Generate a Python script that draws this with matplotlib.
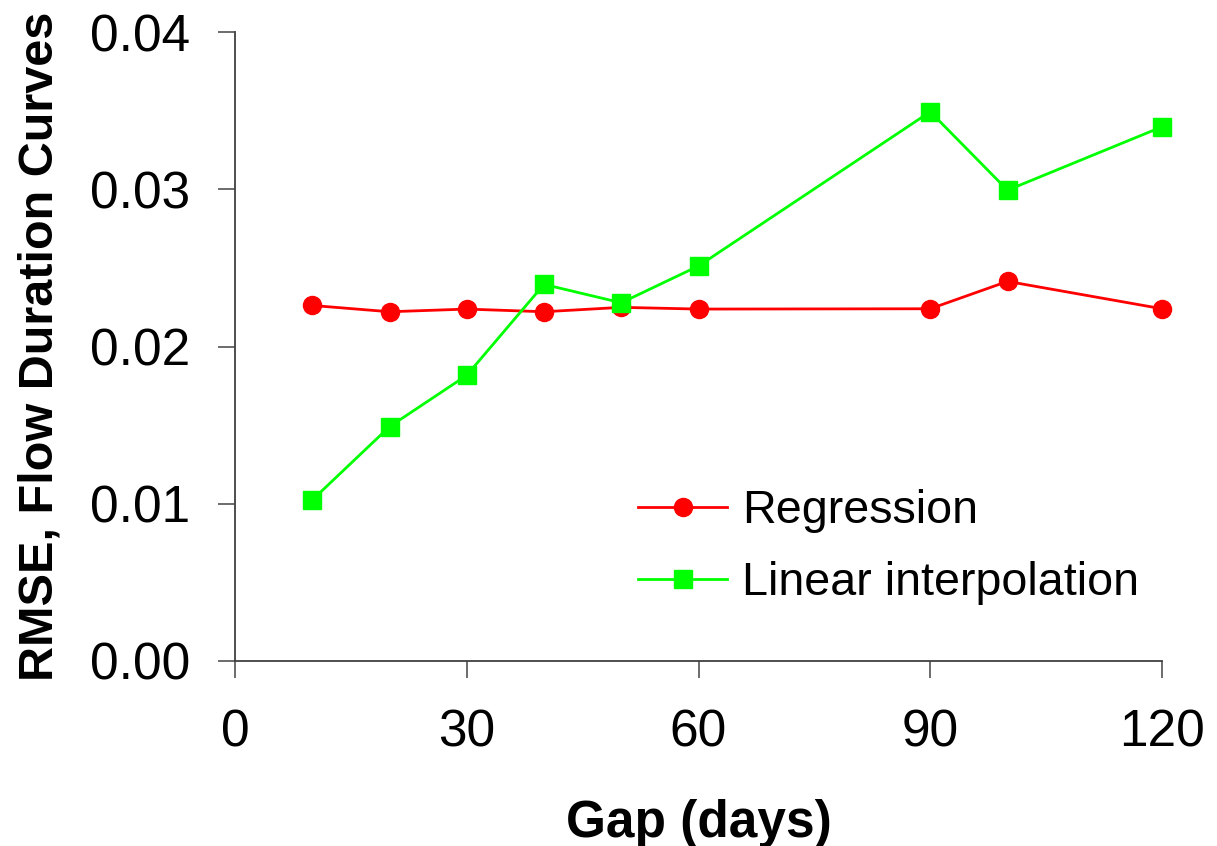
import matplotlib.pyplot as plt

plt.rcParams['font.family'] = ['Liberation Sans', 'DejaVu Sans']

# gap lengths tested (days)
gap_days = [10, 20, 30, 40, 50, 60, 90, 100, 120]

# RMSE of flow duration curves for each infilling method
rmse_regression = [0.02261, 0.02221, 0.02238, 0.02221, 0.02249, 0.02238, 0.02240, 0.02414, 0.02240]
rmse_linear = [0.01024, 0.01490, 0.01817, 0.02395, 0.02278, 0.02512, 0.03493, 0.02994, 0.03397]

x_ticks = [0, 30, 60, 90, 120]
y_ticks = [0.00, 0.01, 0.02, 0.03, 0.04]

fig = plt.figure(figsize=(12.17, 8.46), dpi=100)
ax = fig.add_axes([235 / 1217, 1 - 661 / 846, (1162 - 235) / 1217, (661 - 32) / 846])

ax.plot(gap_days, rmse_regression, color='#ff0000', lw=2, marker='o', ms=13,
        label='Regression', clip_on=False)
ax.plot(gap_days, rmse_linear, color='#00ff00', lw=2, marker='s', ms=13,
        label='Linear interpolation', clip_on=False)

ax.set_xlim(0, 120)
ax.set_ylim(0, 0.04)
ax.set_xticks(x_ticks)
ax.set_yticks(y_ticks)
ax.set_yticklabels([f'{v:.2f}' for v in y_ticks])

for side in ['top', 'right']:
    ax.spines[side].set_visible(False)
for side in ['left', 'bottom']:
    ax.spines[side].set_color('#404040')
    ax.spines[side].set_linewidth(1.3)
ax.tick_params(direction='out', length=12, width=1.3, color='#606060',
               labelsize=37)
ax.tick_params(axis='y', pad=20)
ax.tick_params(axis='x', pad=22)

ax.set_xlabel('Gap (days)', fontsize=37, fontweight='bold', labelpad=30)
ax.set_ylabel('RMSE, Flow Duration Curves', fontsize=35, fontweight='bold', labelpad=20)

ax.legend(loc='lower left', bbox_to_anchor=(0.41, 0.052), frameon=False,
          fontsize=33.6, handlelength=1.9, handletextpad=0.32, labelspacing=0.6,
          borderpad=0)

fig.savefig('out.png', dpi=100)
